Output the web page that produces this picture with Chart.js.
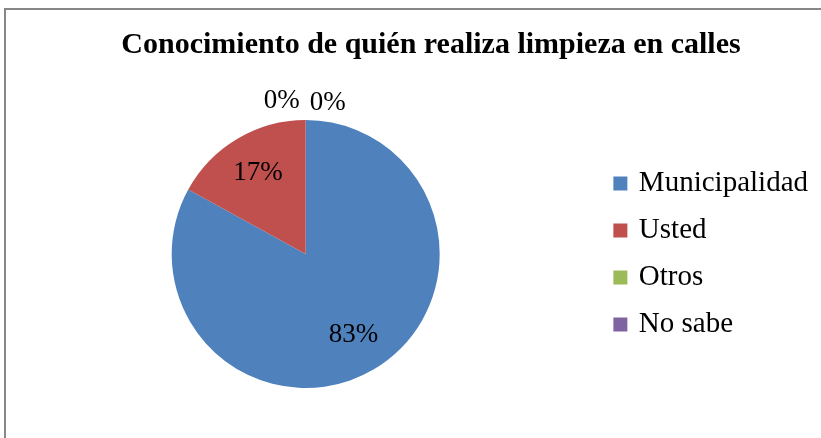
<!DOCTYPE html>
<html>
<head>
<meta charset="utf-8">
<script src="https://cdn.jsdelivr.net/npm/chart.js@4"></script>
<style>
  body { margin: 0; background: #fff; }
  #wrap { position: relative; width: 821px; height: 438px; overflow: hidden; }
  #frame { position: absolute; left: 4px; top: 8px; width: 900px; height: 500px;
           border-top: 2px solid #878787; border-left: 2px solid #878787; }
  canvas { position: absolute; left: 0; top: 0; }
</style>
</head>
<body>
<div id="wrap">
  <div id="frame"></div>
  <canvas id="myChart" width="821" height="438"></canvas>
</div>
<script>
const titleText = 'Conocimiento de quién realiza limpieza en calles';
const categories = ['Municipalidad', 'Usted', 'Otros', 'No sabe'];
const values = [83, 17, 0, 0];
const colors = ['#4F81BD', '#C0504D', '#9BBB59', '#8064A2'];

const serif = '"Liberation Serif", "Times New Roman", serif';

// title sits off-centre in the original, so it is drawn here
const chartTitle = {
  id: 'chartTitle',
  afterDraw(chart) {
    const ctx = chart.ctx;
    ctx.save();
    ctx.font = 'bold 30px ' + serif;
    ctx.fillStyle = '#000';
    ctx.textAlign = 'center';
    ctx.textBaseline = 'middle';
    ctx.fillText(titleText, 431, 45);
    ctx.restore();
  }
};

// percent labels like the Excel ones
const pctLabels = {
  id: 'pctLabels',
  afterDatasetsDraw(chart) {
    const ctx = chart.ctx;
    const arcs = chart.getDatasetMeta(0).data;
    const total = values.reduce((a, b) => a + b, 0);
    ctx.save();
    ctx.font = '27px ' + serif;
    ctx.fillStyle = '#000';
    ctx.textAlign = 'center';
    ctx.textBaseline = 'middle';
    let zeroCount = 0;
    arcs.forEach((arc, i) => {
      const pct = Math.round(values[i] / total * 100) + '%';
      let x, y;
      if (values[i] > 0) {
        const mid = (arc.startAngle + arc.endAngle) / 2;
        x = arc.x + Math.cos(mid) * arc.outerRadius * 0.7;
        y = arc.y + Math.sin(mid) * arc.outerRadius * 0.7;
      } else {
        x = arc.x + (zeroCount === 0 ? -24 : 22);
        y = arc.y - arc.outerRadius - (zeroCount === 0 ? 19 : 17);
        zeroCount++;
      }
      ctx.fillText(pct, x, y);
    });
    ctx.restore();
  }
};

const config = {
  type: 'pie',
  data: {
    labels: categories,
    datasets: [{
      data: values,
      backgroundColor: colors,
      borderWidth: 0,
    }],
  },
  options: {
    responsive: false,
    animation: false,
    layout: { padding: { left: 13, right: 3, top: 120, bottom: 50 } },
    plugins: {
      title: { display: false },
      legend: {
        position: 'right',
        fullSize: false,
        labels: {
          color: '#000',
          font: { family: serif, size: 29 },
          boxWidth: 8,
          boxHeight: 8,
          padding: 18,
          generateLabels: () => categories.map((c, i) => ({
            text: c,
            fillStyle: colors[i],
            strokeStyle: colors[i],
            lineWidth: 6,
            fontColor: '#000',
            hidden: false,
            index: i,
          })),
        },
      },
      tooltip: { enabled: false },
    },
  },
  plugins: [pctLabels, chartTitle],
};

const myChart = new Chart(document.getElementById('myChart'), config);
</script>
</body>
</html>
